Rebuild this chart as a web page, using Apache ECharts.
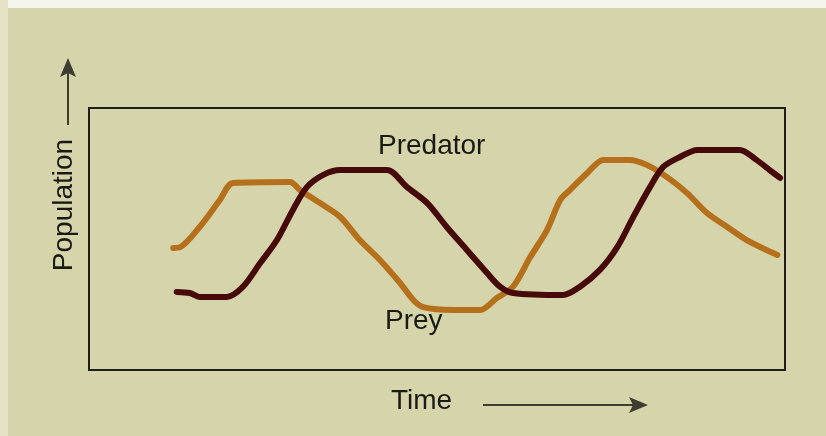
<!DOCTYPE html>
<html>
<head>
<meta charset="utf-8">
<script src="https://cdn.jsdelivr.net/npm/echarts@6/dist/echarts.min.js"></script>
<style>
  html, body { margin: 0; padding: 0; background: #d6d4ab; }
  #chart { width: 826px; height: 436px; }
</style>
</head>
<body>
<div id="chart"></div>
<script>
// Time (0–100) and population (0–100) samples for the two cycles
const preyTime = [12.1, 13.1, 15.9, 18.8, 20.7, 28.9, 30.3, 33.2, 36.1, 38.9, 41.8, 44.7, 46.6, 48.0, 52.3, 56.2, 58.6, 60.9, 63.4, 65.8, 67.7, 69.1, 71.6, 73.9, 77.7, 80.2, 83.0, 85.9, 88.8, 91.7, 94.5, 98.9];
const preyPop  = [46.6, 46.9, 54.6, 64.9, 71.4, 71.8, 68.7, 63.7, 58.4, 49.6, 42.0, 33.2, 26.7, 24.0, 22.9, 22.9, 27.5, 31.7, 43.1, 53.4, 64.9, 68.7, 75.2, 80.2, 80.2, 78.2, 73.7, 67.6, 59.9, 54.6, 49.6, 43.9];

const predTime = [12.6, 14.5, 15.9, 19.8, 22.1, 24.6, 27.0, 29.3, 31.3, 33.6, 36.1, 42.8, 45.7, 48.6, 51.4, 54.3, 57.2, 59.1, 60.9, 68.1, 70.5, 73.4, 75.9, 78.2, 80.6, 82.5, 84.9, 87.4, 93.5, 95.9, 97.8, 99.3];
const predPop  = [29.8, 29.4, 27.9, 27.9, 31.7, 40.8, 49.6, 61.1, 69.8, 74.4, 76.3, 76.3, 69.8, 63.7, 54.6, 45.8, 37.0, 31.7, 29.4, 28.6, 31.7, 38.2, 46.9, 58.4, 69.8, 77.5, 81.3, 84.0, 84.0, 80.2, 76.3, 73.3];

const seriesNames = ['Prey', 'Predator'];
const axisNames = ['Time', 'Population'];

const pair = (xs, ys) => xs.map((x, i) => [x, ys[i]]);

const FONT = '28px "Liberation Sans", Arial, sans-serif';
const INK = '#1a1a14';
const ARROW = '#3d3d30';

const chart = echarts.init(document.getElementById('chart'), null, { renderer: 'canvas' });

chart.setOption({
  backgroundColor: '#d6d4ab',
  animation: false,
  grid: {
    left: 89, top: 108, width: 696, height: 262,
    show: true, borderColor: '#1e1e1a', borderWidth: 2,
    backgroundColor: 'transparent'
  },
  xAxis: { type: 'value', min: 0, max: 100, show: false },
  yAxis: { type: 'value', min: 0, max: 100, show: false },
  series: [
    {
      name: seriesNames[0], type: 'line', data: pair(preyTime, preyPop),
      showSymbol: false, smooth: 0.3,
      lineStyle: { color: '#b5701c', width: 6, cap: 'round', join: 'round' }
    },
    {
      name: seriesNames[1], type: 'line', data: pair(predTime, predPop),
      showSymbol: false, smooth: 0.3,
      lineStyle: { color: '#470a0a', width: 6, cap: 'round', join: 'round' }
    }
  ],
  graphic: [
    // light page edges
    { type: 'rect', shape: { x: 0, y: 0, width: 826, height: 8 }, style: { fill: '#f5f5ec' }, z: -10 },
    { type: 'rect', shape: { x: 0, y: 0, width: 8, height: 436 }, style: { fill: '#e4e3c6' }, z: -10 },
    // series labels
    { type: 'text', x: 378, y: 146, style: { text: seriesNames[1], font: FONT, fill: INK, align: 'left', verticalAlign: 'middle' } },
    { type: 'text', x: 385, y: 321, style: { text: seriesNames[0], font: FONT, fill: INK, align: 'left', verticalAlign: 'middle' } },
    // axis names
    { type: 'text', x: 391, y: 401, style: { text: axisNames[0], font: FONT, fill: INK, align: 'left', verticalAlign: 'middle' } },
    { type: 'text', x: 64, y: 205, rotation: Math.PI / 2, style: { text: axisNames[1], font: FONT, fill: INK, align: 'center', verticalAlign: 'middle' } },
    // vertical arrow
    { type: 'line', shape: { x1: 68, y1: 125, x2: 68, y2: 72 }, style: { stroke: ARROW, lineWidth: 2 } },
    { type: 'polygon', shape: { points: [[68, 58], [76, 77], [68, 73], [60, 77]] }, style: { fill: ARROW } },
    // horizontal arrow
    { type: 'line', shape: { x1: 483, y1: 405, x2: 636, y2: 405 }, style: { stroke: ARROW, lineWidth: 2 } },
    { type: 'polygon', shape: { points: [[648, 405], [629, 397], [633, 405], [629, 413]] }, style: { fill: ARROW } }
  ]
});
</script>
</body>
</html>
